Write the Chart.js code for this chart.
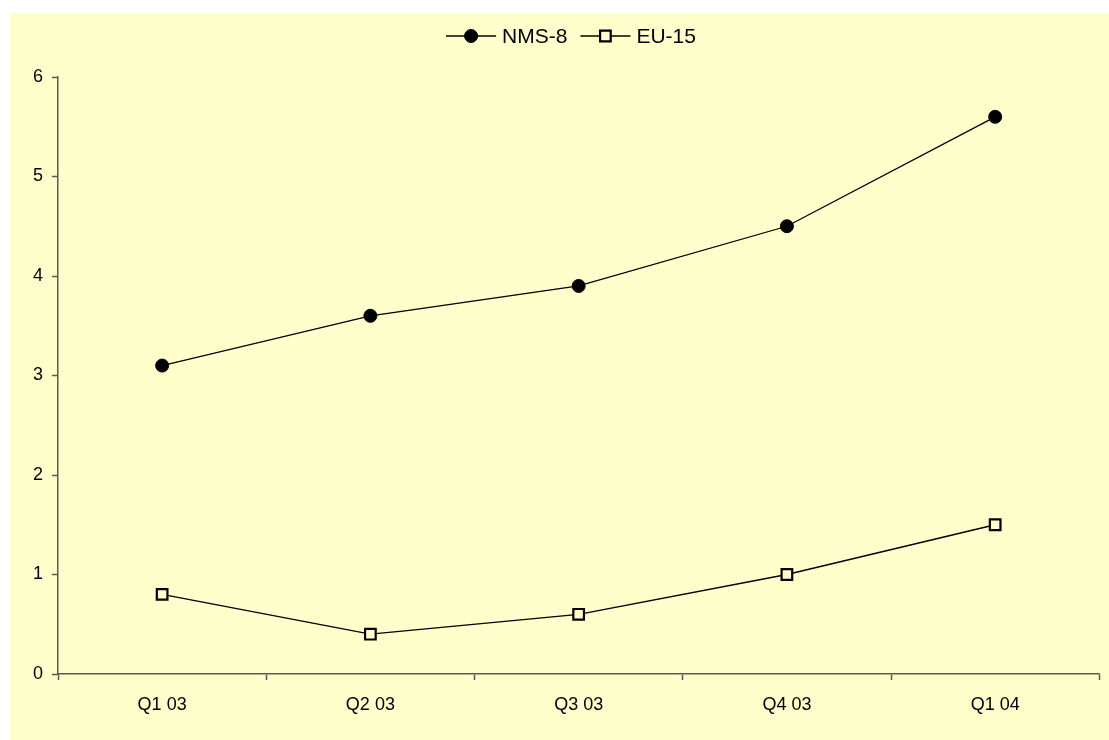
<!DOCTYPE html>
<html>
<head>
<meta charset="utf-8">
<title>NMS-8 / EU-15</title>
<script src="https://cdn.jsdelivr.net/npm/chart.js@4/dist/chart.umd.min.js"></script>
<style>
  html, body { margin: 0; padding: 0; background: #ffffff; }
  #wrap { width: 1109px; height: 740px; position: relative; }
</style>
</head>
<body>
<div id="wrap"><canvas id="c" width="1109" height="740"></canvas></div>
<script>
// Quarterly values
const categories = ['Q1 03', 'Q2 03', 'Q3 03', 'Q4 03', 'Q1 04'];
const nms8 = [3.1, 3.6, 3.9, 4.5, 5.6];
const eu15 = [0.8, 0.4, 0.6, 1.0, 1.5];
const seriesNames = ['NMS-8', 'EU-15'];
const yTicks = [0, 1, 2, 3, 4, 5, 6];

const PANEL = '#FFFFCC';
const AXIS = '#5a5a50';
const axisFont = { family: '"Liberation Sans", Arial, sans-serif', size: 18 };
const legendFont = '21px "Liberation Sans", Arial, sans-serif';

// Yellow panel behind everything, inset from the top/left edges
const panelPlugin = {
  id: 'panel',
  beforeDraw(chart) {
    const ctx = chart.ctx;
    ctx.save();
    ctx.fillStyle = '#ffffff';
    ctx.fillRect(0, 0, chart.width, chart.height);
    ctx.fillStyle = PANEL;
    ctx.fillRect(10, 13, chart.width - 10, chart.height - 13);
    ctx.restore();
  }
};

// Line-with-marker legend across the top
const lineLegend = {
  id: 'lineLegend',
  afterDraw(chart) {
    const ctx = chart.ctx;
    const lineLen = 50, gapText = 6, gapItem = 13, cy = 36, centerX = 571;
    ctx.save();
    ctx.font = legendFont;
    const items = chart.data.datasets.map(ds => ({ ds, w: lineLen + gapText + ctx.measureText(ds.label).width }));
    const total = items.reduce((s, it) => s + it.w, 0) + gapItem * (items.length - 1);
    let x = centerX - total / 2;
    items.forEach(({ ds, w }) => {
      const mx = x + lineLen / 2;
      ctx.strokeStyle = ds.borderColor;
      ctx.lineWidth = ds.borderWidth;
      ctx.beginPath();
      ctx.moveTo(x, cy);
      ctx.lineTo(x + lineLen, cy);
      ctx.stroke();
      ctx.fillStyle = ds.pointBackgroundColor;
      ctx.strokeStyle = ds.pointBorderColor;
      ctx.lineWidth = ds.pointBorderWidth;
      ctx.beginPath();
      if (ds.pointStyle === 'circle') {
        ctx.arc(mx, cy, ds.pointRadius, 0, Math.PI * 2);
      } else {
        const r = ds.pointRadius * Math.SQRT1_2;
        ctx.rect(mx - r, cy - r, 2 * r, 2 * r);
      }
      ctx.fill();
      ctx.stroke();
      ctx.fillStyle = '#000000';
      ctx.textAlign = 'left';
      ctx.textBaseline = 'middle';
      ctx.fillText(ds.label, x + lineLen + gapText, cy + 1);
      x += w + gapItem;
    });
    ctx.restore();
  }
};

new Chart(document.getElementById('c'), {
  type: 'line',
  data: {
    labels: categories,
    datasets: [
      {
        label: seriesNames[0],
        data: nms8,
        borderColor: '#000000',
        borderWidth: 1.3,
        pointStyle: 'circle',
        pointRadius: 6.5,
        pointBackgroundColor: '#000000',
        pointBorderColor: '#000000',
        pointBorderWidth: 1,
        tension: 0
      },
      {
        label: seriesNames[1],
        data: eu15,
        borderColor: '#000000',
        borderWidth: 1.3,
        pointStyle: 'rect',
        pointRadius: 7.5,
        pointBackgroundColor: PANEL,
        pointBorderColor: '#000000',
        pointBorderWidth: 2.2,
        tension: 0
      }
    ]
  },
  options: {
    responsive: false,
    animation: false,
    devicePixelRatio: 1,
    layout: { padding: { top: 77, right: 6, bottom: 0, left: 0 } },
    plugins: {
      legend: { display: false },
      tooltip: { enabled: false }
    },
    scales: {
      x: {
        type: 'category',
        offset: true,
        afterFit(scale) { scale.height = 66; },
        grid: {
          offset: true,
          drawOnChartArea: false,
          drawTicks: true,
          tickLength: 6,
          color: AXIS,
          tickWidth: 1.5
        },
        border: { color: AXIS, width: 1.5 },
        ticks: { color: '#000000', font: axisFont, padding: 14, maxRotation: 0 }
      },
      y: {
        min: 0,
        max: 6,
        afterFit(scale) { scale.width = 58; },
        afterBuildTicks(scale) { scale.ticks = yTicks.map(v => ({ value: v })); },
        grid: {
          drawOnChartArea: false,
          drawTicks: true,
          tickLength: 6,
          color: AXIS,
          tickWidth: 1.5
        },
        border: { color: AXIS, width: 1.5 },
        ticks: { color: '#000000', font: axisFont, padding: 9 }
      }
    }
  },
  plugins: [panelPlugin, lineLegend]
});
</script>
</body>
</html>
